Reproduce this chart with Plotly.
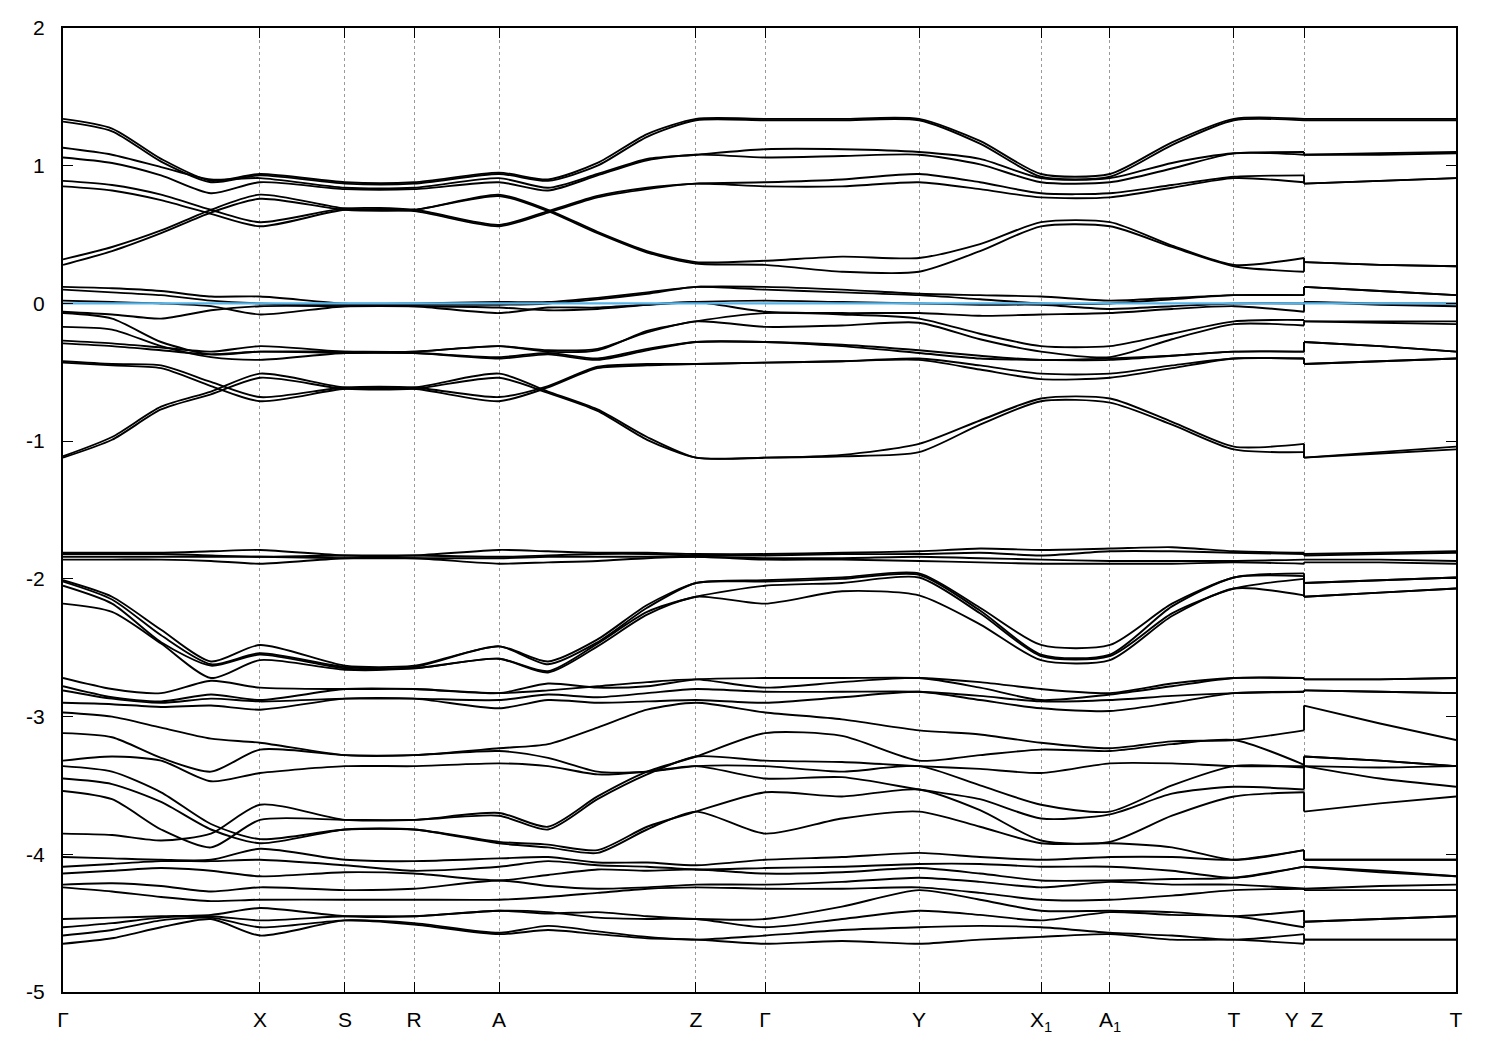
import plotly.graph_objects as go

# ---- k-path (normalised distance) ----
K_NODES = [0.0, 0.0352, 0.0704, 0.1062, 0.1414, 0.2024, 0.2520, 0.3130, 0.3482, 0.3837,
           0.4193, 0.4544, 0.5040, 0.5592, 0.6145, 0.6583, 0.7021, 0.7516, 0.7961, 0.8406,
           0.8909, 0.8909, 0.9454, 1.0]
K_TICKS = [0.0, 0.1414, 0.2024, 0.2520, 0.3130, 0.4544, 0.5040, 0.6145, 0.7021, 0.7516,
           0.8406, 0.8909, 1.0]
K_LABELS = ["Γ", "X", "S", "R", "A", "Z", "Γ", "Y", "X<sub>1</sub>", "A<sub>1</sub>",
            "T", "Y\u00a0\u00a0Z", "T"]
E_TICKS = [2, 1, 0, -1, -2, -3, -4, -5]
E_LABELS = ["2", "1", "0", "-1", "-2", "-3", "-4", "-5"]
E_FERMI = 0.0

# ---- bands (eV) at K_NODES ----
TOP_BANDS = [
    [1.34, 1.27, 1.05, 0.89, 0.94, 0.88, 0.88, 0.95, 0.90, 1.02, 1.23, 1.34, 1.34, 1.34, 1.34, 1.18, 0.94, 0.94, 1.17, 1.34, 1.34, 1.34, 1.34, 1.34],
    [1.32, 1.25, 1.03, 0.88, 0.93, 0.87, 0.87, 0.94, 0.89, 1.00, 1.21, 1.33, 1.33, 1.33, 1.33, 1.16, 0.92, 0.92, 1.15, 1.33, 1.33, 1.33, 1.33, 1.33],
    [1.13, 1.08, 0.99, 0.90, 0.91, 0.84, 0.84, 0.91, 0.84, 0.94, 1.05, 1.08, 1.12, 1.12, 1.10, 1.05, 0.91, 0.91, 1.02, 1.09, 1.10, 1.08, 1.09, 1.10],
    [1.06, 1.02, 0.93, 0.80, 0.88, 0.83, 0.83, 0.88, 0.82, 0.93, 1.04, 1.08, 1.06, 1.07, 1.08, 1.01, 0.88, 0.88, 0.98, 1.09, 1.08, 1.08, 1.08, 1.09],
    [0.89, 0.86, 0.79, 0.68, 0.59, 0.69, 0.68, 0.57, 0.67, 0.78, 0.84, 0.87, 0.88, 0.90, 0.94, 0.88, 0.80, 0.80, 0.86, 0.92, 0.93, 0.87, 0.89, 0.91],
    [0.85, 0.82, 0.75, 0.65, 0.56, 0.68, 0.67, 0.56, 0.66, 0.77, 0.83, 0.87, 0.85, 0.85, 0.88, 0.83, 0.77, 0.77, 0.84, 0.91, 0.88, 0.87, 0.89, 0.91],
    [0.32, 0.41, 0.53, 0.68, 0.79, 0.69, 0.68, 0.79, 0.68, 0.52, 0.38, 0.30, 0.31, 0.34, 0.33, 0.43, 0.59, 0.59, 0.42, 0.28, 0.33, 0.30, 0.28, 0.27],
    [0.28, 0.38, 0.51, 0.66, 0.76, 0.68, 0.68, 0.78, 0.67, 0.51, 0.37, 0.29, 0.28, 0.23, 0.23, 0.38, 0.56, 0.56, 0.41, 0.27, 0.23, 0.30, 0.28, 0.27],
]

FERMI_BANDS = [
    [0.12, 0.11, 0.09, 0.05, 0.05, 0.00, 0.00, 0.01, 0.01, 0.04, 0.08, 0.12, 0.12, 0.10, 0.07, 0.06, 0.05, 0.02, 0.04, 0.06, 0.06, 0.12, 0.09, 0.06],
    [0.10, 0.08, 0.06, 0.02, 0.00, -0.01, -0.01, -0.01, 0.00, 0.03, 0.07, 0.12, 0.10, 0.08, 0.06, 0.03, 0.00, 0.00, 0.03, 0.06, 0.06, 0.12, 0.09, 0.06],
    [0.02, 0.01, 0.00, -0.02, -0.08, -0.02, -0.02, -0.07, -0.03, -0.03, -0.01, 0.01, 0.02, 0.01, 0.00, -0.01, -0.01, -0.04, -0.02, 0.00, 0.00, 0.01, 0.00, 0.00],
    [-0.06, -0.08, -0.11, -0.05, -0.02, -0.02, -0.02, -0.03, -0.05, -0.04, -0.01, 0.01, -0.06, -0.07, -0.07, -0.09, -0.08, -0.07, -0.04, -0.02, -0.06, 0.01, -0.01, -0.02],
    [-0.07, -0.11, -0.28, -0.37, -0.35, -0.35, -0.35, -0.31, -0.35, -0.34, -0.20, -0.13, -0.07, -0.08, -0.11, -0.22, -0.31, -0.31, -0.22, -0.13, -0.12, -0.13, -0.13, -0.13],
    [-0.17, -0.19, -0.31, -0.39, -0.41, -0.36, -0.36, -0.39, -0.36, -0.40, -0.33, -0.28, -0.28, -0.30, -0.34, -0.38, -0.41, -0.40, -0.38, -0.35, -0.35, -0.28, -0.31, -0.35],
    [-0.27, -0.29, -0.32, -0.35, -0.31, -0.35, -0.35, -0.31, -0.34, -0.33, -0.21, -0.13, -0.17, -0.16, -0.14, -0.26, -0.35, -0.39, -0.26, -0.15, -0.16, -0.13, -0.14, -0.15],
    [-0.29, -0.31, -0.34, -0.37, -0.35, -0.36, -0.36, -0.40, -0.37, -0.41, -0.34, -0.28, -0.28, -0.31, -0.36, -0.40, -0.41, -0.41, -0.38, -0.35, -0.35, -0.28, -0.31, -0.35],
    [-0.42, -0.44, -0.45, -0.57, -0.68, -0.61, -0.61, -0.68, -0.60, -0.46, -0.44, -0.44, -0.43, -0.42, -0.40, -0.45, -0.51, -0.51, -0.45, -0.40, -0.40, -0.44, -0.42, -0.40],
    [-0.43, -0.45, -0.47, -0.60, -0.71, -0.62, -0.62, -0.71, -0.61, -0.47, -0.45, -0.44, -0.43, -0.42, -0.41, -0.48, -0.55, -0.54, -0.47, -0.40, -0.40, -0.44, -0.42, -0.40],
    [-1.11, -0.97, -0.75, -0.64, -0.51, -0.61, -0.61, -0.51, -0.64, -0.77, -0.97, -1.12, -1.12, -1.10, -1.02, -0.85, -0.69, -0.69, -0.86, -1.04, -1.02, -1.12, -1.08, -1.04],
    [-1.12, -0.99, -0.77, -0.66, -0.54, -0.62, -0.62, -0.54, -0.65, -0.78, -0.99, -1.12, -1.12, -1.11, -1.08, -0.88, -0.71, -0.72, -0.88, -1.06, -1.08, -1.12, -1.09, -1.06],
]

FLAT_BANDS = [
    [-1.81, -1.81, -1.81, -1.80, -1.79, -1.83, -1.83, -1.79, -1.80, -1.81, -1.81, -1.82, -1.82, -1.81, -1.80, -1.78, -1.79, -1.78, -1.77, -1.80, -1.81, -1.82, -1.81, -1.80],
    [-1.82, -1.82, -1.82, -1.83, -1.84, -1.83, -1.83, -1.84, -1.83, -1.82, -1.82, -1.83, -1.83, -1.82, -1.82, -1.81, -1.83, -1.80, -1.80, -1.81, -1.82, -1.83, -1.82, -1.81],
    [-1.84, -1.84, -1.84, -1.84, -1.84, -1.85, -1.85, -1.85, -1.84, -1.84, -1.84, -1.84, -1.85, -1.85, -1.84, -1.85, -1.86, -1.87, -1.87, -1.87, -1.86, -1.86, -1.86, -1.87],
    [-1.86, -1.86, -1.86, -1.87, -1.89, -1.85, -1.85, -1.89, -1.88, -1.87, -1.85, -1.84, -1.86, -1.86, -1.87, -1.88, -1.89, -1.89, -1.89, -1.88, -1.89, -1.88, -1.88, -1.89],
]

MID_BANDS = [
    [-2.01, -2.13, -2.37, -2.60, -2.48, -2.63, -2.63, -2.49, -2.60, -2.44, -2.19, -2.03, -2.01, -1.99, -1.96, -2.21, -2.48, -2.48, -2.18, -1.99, -1.96, -2.03, -2.01, -1.99],
    [-2.02, -2.15, -2.41, -2.62, -2.54, -2.64, -2.64, -2.49, -2.62, -2.46, -2.21, -2.03, -2.02, -2.00, -1.97, -2.23, -2.55, -2.55, -2.20, -1.99, -1.98, -2.03, -2.01, -1.99],
    [-2.05, -2.18, -2.46, -2.63, -2.55, -2.65, -2.65, -2.58, -2.67, -2.47, -2.24, -2.13, -2.05, -2.03, -1.99, -2.25, -2.56, -2.56, -2.25, -2.07, -2.00, -2.13, -2.10, -2.07],
    [-2.18, -2.24, -2.47, -2.72, -2.59, -2.66, -2.65, -2.58, -2.68, -2.49, -2.26, -2.13, -2.18, -2.09, -2.12, -2.33, -2.59, -2.59, -2.27, -2.07, -2.12, -2.13, -2.10, -2.07],
]

LOW_BANDS = [
    [-2.72, -2.80, -2.83, -2.74, -2.79, -2.80, -2.80, -2.83, -2.76, -2.79, -2.78, -2.73, -2.72, -2.72, -2.72, -2.75, -2.80, -2.83, -2.76, -2.72, -2.72, -2.73, -2.73, -2.72],
    [-2.78, -2.86, -2.89, -2.84, -2.88, -2.80, -2.80, -2.83, -2.81, -2.78, -2.75, -2.73, -2.79, -2.75, -2.72, -2.79, -2.88, -2.84, -2.78, -2.72, -2.72, -2.73, -2.73, -2.72],
    [-2.81, -2.87, -2.90, -2.87, -2.89, -2.87, -2.87, -2.88, -2.84, -2.86, -2.83, -2.80, -2.82, -2.82, -2.82, -2.85, -2.89, -2.88, -2.85, -2.83, -2.82, -2.81, -2.82, -2.83],
    [-2.90, -2.91, -2.93, -2.92, -2.95, -2.87, -2.87, -2.94, -2.88, -2.90, -2.89, -2.88, -2.90, -2.86, -2.82, -2.88, -2.94, -2.96, -2.90, -2.83, -2.82, -2.81, -2.82, -2.83],
    [-2.97, -3.00, -3.08, -3.16, -3.19, -3.28, -3.28, -3.23, -3.20, -3.08, -2.95, -2.90, -2.97, -3.02, -3.10, -3.13, -3.19, -3.23, -3.18, -3.17, -3.10, -2.92, -3.05, -3.17],
    [-3.12, -3.15, -3.30, -3.40, -3.24, -3.28, -3.28, -3.25, -3.30, -3.40, -3.40, -3.36, -3.36, -3.40, -3.36, -3.50, -3.64, -3.69, -3.50, -3.36, -3.37, -3.36, -3.37, -3.36],
    [-3.32, -3.29, -3.32, -3.47, -3.41, -3.36, -3.36, -3.34, -3.36, -3.42, -3.40, -3.36, -3.45, -3.44, -3.53, -3.60, -3.74, -3.71, -3.56, -3.51, -3.53, -3.36, -3.45, -3.51],
    [-3.36, -3.40, -3.55, -3.78, -3.89, -3.82, -3.82, -3.91, -3.93, -3.97, -3.80, -3.69, -3.55, -3.58, -3.53, -3.68, -3.90, -3.91, -3.72, -3.58, -3.55, -3.69, -3.63, -3.58],
    [-3.45, -3.49, -3.62, -3.82, -3.92, -3.82, -3.82, -3.92, -3.95, -3.99, -3.82, -3.69, -3.85, -3.74, -3.69, -3.80, -3.92, -3.92, -3.95, -4.04, -3.97, -4.04, -4.04, -4.04],
    [-3.54, -3.60, -3.82, -3.95, -3.75, -3.75, -3.75, -3.70, -3.80, -3.58, -3.40, -3.29, -3.12, -3.14, -3.32, -3.28, -3.24, -3.25, -3.20, -3.17, -3.35, -3.29, -3.32, -3.36],
    [-3.85, -3.86, -3.90, -3.85, -3.64, -3.75, -3.75, -3.72, -3.82, -3.60, -3.42, -3.29, -3.32, -3.33, -3.36, -3.38, -3.41, -3.34, -3.34, -3.36, -3.36, -3.29, -3.32, -3.36],
    [-4.02, -4.03, -4.04, -4.04, -3.96, -4.04, -4.05, -4.03, -4.02, -4.06, -4.06, -4.08, -4.04, -4.02, -3.99, -4.02, -4.04, -4.02, -4.02, -4.04, -3.97, -4.04, -4.04, -4.04],
    [-4.09, -4.07, -4.05, -4.05, -4.04, -4.08, -4.12, -4.09, -4.05, -4.08, -4.09, -4.11, -4.10, -4.09, -4.07, -4.07, -4.09, -4.09, -4.12, -4.17, -4.09, -4.09, -4.12, -4.16],
    [-4.14, -4.12, -4.10, -4.12, -4.16, -4.13, -4.14, -4.19, -4.15, -4.11, -4.12, -4.11, -4.14, -4.13, -4.10, -4.14, -4.19, -4.19, -4.18, -4.17, -4.09, -4.09, -4.13, -4.16],
    [-4.22, -4.21, -4.23, -4.27, -4.24, -4.26, -4.25, -4.19, -4.23, -4.25, -4.24, -4.22, -4.22, -4.20, -4.17, -4.20, -4.24, -4.20, -4.22, -4.22, -4.25, -4.25, -4.23, -4.22],
    [-4.24, -4.27, -4.31, -4.34, -4.33, -4.33, -4.33, -4.33, -4.31, -4.28, -4.25, -4.24, -4.25, -4.25, -4.24, -4.28, -4.33, -4.33, -4.30, -4.26, -4.25, -4.26, -4.26, -4.26],
    [-4.47, -4.46, -4.45, -4.44, -4.39, -4.45, -4.45, -4.41, -4.43, -4.42, -4.45, -4.47, -4.47, -4.38, -4.26, -4.33, -4.41, -4.41, -4.42, -4.45, -4.41, -4.49, -4.47, -4.45],
    [-4.53, -4.50, -4.46, -4.45, -4.48, -4.45, -4.45, -4.41, -4.42, -4.46, -4.47, -4.47, -4.53, -4.47, -4.41, -4.44, -4.48, -4.42, -4.44, -4.45, -4.53, -4.49, -4.47, -4.45],
    [-4.59, -4.55, -4.48, -4.46, -4.53, -4.48, -4.50, -4.57, -4.52, -4.56, -4.60, -4.62, -4.59, -4.55, -4.53, -4.52, -4.53, -4.57, -4.59, -4.62, -4.58, -4.62, -4.62, -4.62],
    [-4.65, -4.61, -4.53, -4.47, -4.59, -4.48, -4.51, -4.58, -4.55, -4.58, -4.61, -4.62, -4.65, -4.63, -4.65, -4.62, -4.60, -4.58, -4.62, -4.62, -4.65, -4.62, -4.62, -4.62],
]

BREAK_INDEX = 20  # last node of the left part; the next node starts the Z-T branch

ALL_BANDS = TOP_BANDS + FERMI_BANDS + FLAT_BANDS + MID_BANDS + LOW_BANDS

fig = go.Figure()

line_style = dict(color="black", width=1.9, shape="spline", smoothing=0.7)

for band in ALL_BANDS:
    fig.add_trace(go.Scatter(x=K_NODES[:BREAK_INDEX + 1], y=band[:BREAK_INDEX + 1],
                             mode="lines", line=line_style, hoverinfo="skip"))
    fig.add_trace(go.Scatter(x=K_NODES[BREAK_INDEX + 1:], y=band[BREAK_INDEX + 1:],
                             mode="lines", line=line_style, hoverinfo="skip"))

# vertical joins at the Y|Z discontinuity
jx, jy = [], []
for band in ALL_BANDS:
    jx += [K_NODES[BREAK_INDEX], K_NODES[BREAK_INDEX + 1], None]
    jy += [band[BREAK_INDEX], band[BREAK_INDEX + 1], None]
fig.add_trace(go.Scatter(x=jx, y=jy, mode="lines",
                         line=dict(color="black", width=1.9), hoverinfo="skip"))

# Fermi level
fig.add_trace(go.Scatter(x=[K_NODES[0], K_NODES[-1]], y=[E_FERMI, E_FERMI], mode="lines",
                         line=dict(color="#56B4E9", width=2.2), hoverinfo="skip"))

font = dict(family="Liberation Sans, Arial, sans-serif", size=21, color="black")

fig.update_layout(
    width=1500, height=1050,
    margin=dict(l=55, r=52, t=20, b=66, autoexpand=False),
    paper_bgcolor="white", plot_bgcolor="white",
    showlegend=False,
    font=font,
    xaxis=dict(range=[K_NODES[0], K_NODES[-1]], tickmode="array", tickvals=K_TICKS,
               ticktext=K_LABELS, ticks="inside", ticklen=10, tickwidth=1, tickcolor="black",
               showline=True, linecolor="black", linewidth=2, mirror="ticks",
               showgrid=True, gridcolor="#9a9a9a", gridwidth=1, griddash="3px,3px",
               zeroline=False, tickfont=font, ticklabelstandoff=8),
    yaxis=dict(range=[-5, 2], tickmode="array", tickvals=E_TICKS, ticktext=E_LABELS,
               ticks="inside", ticklen=10, tickwidth=1, tickcolor="black",
               showline=True, linecolor="black", linewidth=2, mirror="ticks",
               showgrid=False, zeroline=False, tickfont=font, ticklabelstandoff=12),
)

fig.write_html("out.html")
